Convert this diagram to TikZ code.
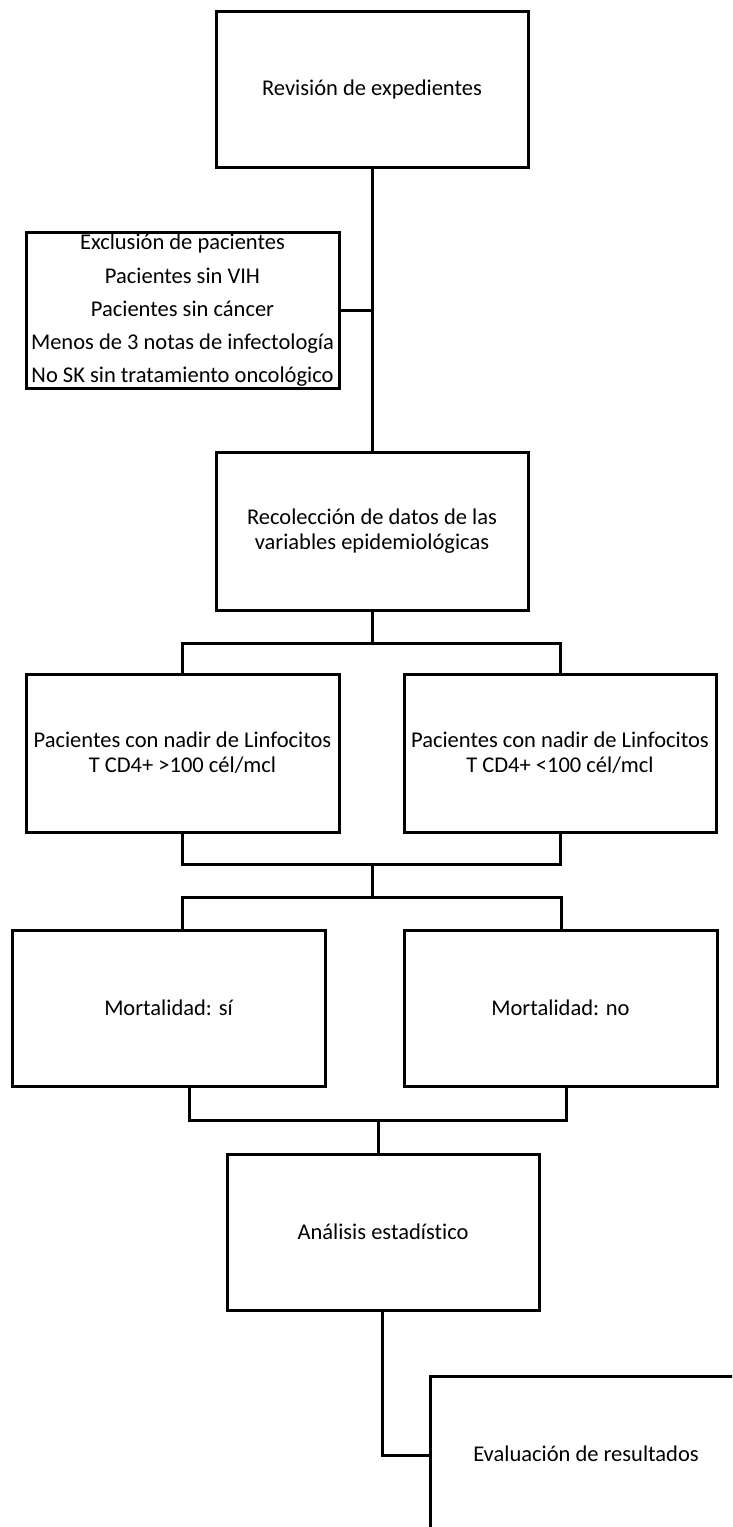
\documentclass[tikz,border=0pt]{standalone}
\usepackage{fontspec}
\setmainfont{Carlito}[Ligatures=NoCommon]
\begin{document}
\begin{tikzpicture}[x=1pt,y=-1pt,
  box/.style={draw=black, line width=3pt, rectangle, minimum width=312pt, minimum height=156pt, inner sep=0pt, align=center, font=\fontsize{22.5}{25}\selectfont},
  conn/.style={draw=black, line width=3pt}]
\clip (0,0) rectangle (732,1527);
\useasboundingbox (0,0) rectangle (732,1527);
\fill[white] (0,0) rectangle (732,1527);

\node[box] (b1) at (372,89) {Revisión de expedientes};
\node[box, minimum width=313pt, font=\fontsize{22.5}{33.3}\selectfont] (ex) at (182.5,310.5) {Exclusión de pacientes\\Pacientes sin VIH\\Pacientes sin cáncer\\Menos de 3 notas de infectología\\No SK sin tratamiento oncológico};
\node[box, minimum height=158pt] (b2) at (372,531.5) {Recolección de datos de las\\variables epidemiológicas};
\node[box, minimum width=313pt, minimum height=158pt] (b3l) at (182.5,753) {Pacientes con nadir de Linfocitos\\T CD4+ >100 cél/mcl};
\node[box, minimum height=158pt] (b3r) at (560,753) {Pacientes con nadir de Linfocitos\\T CD4+ <100 cél/mcl};
\node[box, minimum width=313pt] (b4l) at (168.5,1008) {Mortalidad: sí};
\node[box, minimum width=313pt] (b4r) at (560.5,1008) {Mortalidad: no};
\node[box] (b5) at (383,1232) {Análisis estadístico};
\node[box] (b6) at (586,1454) {Evaluación de resultados};

% spine 1 -> 2 with exclusion branch
\draw[conn] (b1.south) -- (b2.north);
\draw[conn] (ex.east) -- (ex.east -| b1.south);

% 2 -> 3l / 3r
\coordinate (s2) at (372,643);
\draw[conn] (b2.south) -- (s2);
\draw[conn] (b3l.north) |- (s2) -| (b3r.north);

% 3l / 3r -> 4l / 4r
\coordinate (j3) at (372,864);
\coordinate (s4) at (372,897);
\coordinate (t4l) at (182,930);
\coordinate (t4r) at (561,930);
\draw[conn] (b3l.south) |- (j3) -| (b3r.south);
\draw[conn] (j3) -- (s4);
\draw[conn] (t4l) |- (s4) -| (t4r);

% 4l / 4r -> 5
\coordinate (f4l) at (189,1086);
\coordinate (f4r) at (566,1086);
\coordinate (j4) at (378,1120);
\draw[conn] (f4l) |- (j4) -| (f4r);
\draw[conn] (j4) -- (j4 |- b5.north);

% 5 -> 6
\coordinate (e5) at (382,1455);
\draw[conn] (b5.south -| e5) -- (e5) -- (b6.west |- e5);
\end{tikzpicture}
\end{document}
